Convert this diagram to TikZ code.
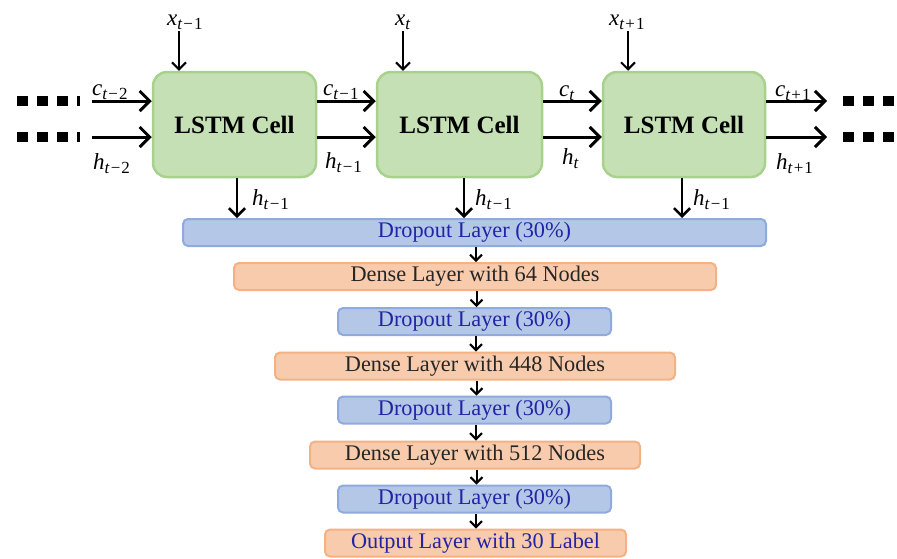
\documentclass[tikz,border=0pt]{standalone}
\usepackage{fontspec}
\setmainfont{Liberation Serif}
\usetikzlibrary{arrows.meta}
\definecolor{gfill}{HTML}{C5E0B4}
\definecolor{gdraw}{HTML}{A9D18E}
\definecolor{bfill}{HTML}{B4C7E7}
\definecolor{bdraw}{HTML}{8FAADC}
\definecolor{ofill}{HTML}{F8CBAD}
\definecolor{odraw}{HTML}{F4B183}
\definecolor{navy}{RGB}{35,35,165}
\newcommand{\lstmlab}[3]{\textit{#1}\raisebox{-4pt}{\fontsize{17pt}{18pt}\selectfont\textit{#2}#3}}
\tikzset{
  cell/.style={draw=gdraw, fill=gfill, line width=2.5pt, rounded corners=14pt,
    minimum height=105pt, inner sep=0pt, font=\rmfamily\fontsize{25pt}{30pt}\selectfont\bfseries},
  layer/.style={line width=2pt, rounded corners=5pt, minimum height=27pt, inner sep=0pt,
    font=\rmfamily\fontsize{22.3pt}{26pt}\selectfont},
  drop/.style={layer, draw=bdraw, fill=bfill, text=navy},
  dense/.style={layer, draw=odraw, fill=ofill, text=black!85},
  lab/.style={inner sep=0pt, anchor=base west, font=\rmfamily\fontsize{23pt}{24pt}\selectfont},
  dotline/.style={line width=10pt, dash pattern=on 11pt off 9pt},
  bigarr/.style={line width=3pt, -{Straight Barb[length=10pt,width=20pt]}},
  midarr/.style={line width=2.6pt, -{Straight Barb[length=8pt,width=16pt]}},
  inarr/.style={line width=2pt, -{Straight Barb[length=7pt,width=14pt]}},
  smallarr/.style={line width=2pt, -{Straight Barb[length=6pt,width=12pt]}}
}
\begin{document}
\begin{tikzpicture}[x=1pt,y=-1pt]
\useasboundingbox (0,0) rectangle (897,558);
% LSTM cells
\node[cell, minimum width=163pt] (c1) at (234.5,124.5) {LSTM Cell};
\node[cell, minimum width=165pt] (c2) at (459.5,124.5) {LSTM Cell};
\node[cell, minimum width=162pt] (c3) at (684,124.5) {LSTM Cell};
% layers
\node[drop, minimum width=583pt] (d1) at (474.5,232.5) {Dropout Layer (30\%)};
\node[dense, minimum width=482pt] (e1) at (475,276.5) {Dense Layer with 64 Nodes};
\node[drop, minimum width=273pt] (d2) at (474.5,321.5) {Dropout Layer (30\%)};
\node[dense, minimum width=400pt] (e2) at (475,366) {Dense Layer with 448 Nodes};
\node[drop, minimum width=273pt] (d3) at (474.5,410) {Dropout Layer (30\%)};
\node[dense, minimum width=330pt] (e3) at (475,455) {Dense Layer with 512 Nodes};
\node[drop, minimum width=273pt] (d4) at (474.5,499) {Dropout Layer (30\%)};
\node[dense, minimum width=301pt, text=navy] (o) at (475.5,543) {Output Layer with 30 Label};
% arrows between layers
\foreach \a/\b in {d1/e1,e1/d2,d2/e2,e2/d3,d3/e3,e3/d4,d4/o}
  \draw[smallarr] ([xshift=1.5pt]\a.south) -- ([xshift=1.5pt]\a.south |- \b.north);
% inputs
\coordinate (i1) at (179,31);
\coordinate (i2) at (403,31);
\coordinate (i3) at (628,31);
\draw[inarr] (i1) -- (i1 |- c1.north);
\draw[inarr] (i2) -- (i2 |- c2.north);
\draw[inarr] (i3) -- (i3 |- c3.north);
\node[lab] (lx1) at (167,25) {\lstmlab{x}{t}{\kern1pt−\kern1pt1}};
\node[lab] (lx2) at (395,25) {\lstmlab{x}{t}{}};
\node[lab] (lx3) at (609,25) {\lstmlab{x}{t}{\kern1pt+\kern1pt1}};
% left dots and arrows
\coordinate (ld1a) at (17,101); \coordinate (ld1b) at (80,101);
\coordinate (ld2a) at (17,137); \coordinate (ld2b) at (80,137);
\draw[dotline] (ld1a) -- (ld1b);
\draw[dotline] (ld2a) -- (ld2b);
\coordinate (lc) at (92,101);
\coordinate (lh) at (92,137);
\draw[bigarr] (lc) -- (lc -| c1.west);
\draw[bigarr] (lh) -- (lh -| c1.west);
% between cells
\draw[bigarr] ([yshift=23.5pt]c1.east) -- ([yshift=23.5pt]c2.west);
\draw[bigarr] ([yshift=-12.5pt]c1.east) -- ([yshift=-12.5pt]c2.west);
\draw[bigarr] ([yshift=23.5pt]c2.east) -- ([yshift=23.5pt]c3.west);
\draw[bigarr] ([yshift=-12.5pt]c2.east) -- ([yshift=-12.5pt]c3.west);
% right arrows and dots
\coordinate (rc) at (827,101);
\coordinate (rh) at (827,137);
\draw[bigarr] (rc -| c3.east) -- (rc);
\draw[bigarr] (rh -| c3.east) -- (rh);
\coordinate (rd1a) at (843,101); \coordinate (rd1b) at (897,101);
\coordinate (rd2a) at (843,137); \coordinate (rd2b) at (897,137);
\draw[dotline] (rd1a) -- (rd1b);
\draw[dotline] (rd2a) -- (rd2b);
% horizontal labels
\node[lab] (lc0) at (92,95) {\lstmlab{c}{t}{\kern1pt−\kern1pt2}};
\node[lab] (lh0) at (93,169) {\lstmlab{h}{t}{\kern1pt−\kern1pt2}};
\node[lab] (lc1) at (323,95) {\lstmlab{c}{t}{\kern1pt−\kern1pt1}};
\node[lab] (lh1) at (325,168) {\lstmlab{h}{t}{\kern1pt−\kern1pt1}};
\node[lab] (lc2) at (559,96) {\lstmlab{c}{t}{}};
\node[lab] (lh2) at (562,164) {\lstmlab{h}{t}{}};
\node[lab] (lc3) at (775,96) {\lstmlab{c}{t}{\kern1pt+\kern1pt1}};
\node[lab] (lh3) at (776,169) {\lstmlab{h}{t}{\kern1pt+\kern1pt1}};
% down arrows
\draw[midarr] ([xshift=2.5pt]c1.south) -- ([xshift=2.5pt]c1.south |- d1.north);
\draw[midarr] ([xshift=4.5pt]c2.south) -- ([xshift=4.5pt]c2.south |- d1.north);
\draw[midarr] ([xshift=-2pt]c3.south) -- ([xshift=-2pt]c3.south |- d1.north);
\node[lab] (ld1) at (252,205) {\lstmlab{h}{t}{\kern1pt−\kern1pt1}};
\node[lab] (ld2) at (475,205) {\lstmlab{h}{t}{\kern1pt−\kern1pt1}};
\node[lab] (ld3) at (693,205) {\lstmlab{h}{t}{\kern1pt−\kern1pt1}};
\end{tikzpicture}
\end{document}
